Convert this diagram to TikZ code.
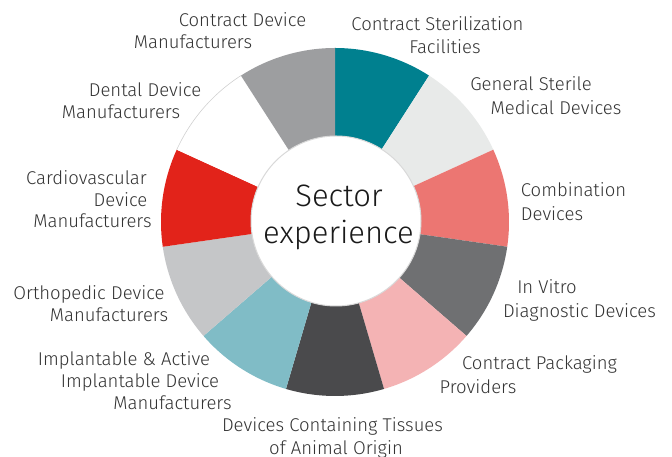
\documentclass[tikz,border=0pt]{standalone}
\usepackage{fontspec}
\setmainfont{Fira Sans}[UprightFont={* Light}]
\definecolor{txtgray}{HTML}{333333}
\definecolor{ctrtxt}{HTML}{1A1A1A}
\definecolor{sA}{HTML}{00808F}
\definecolor{sB}{HTML}{E8EAE9}
\definecolor{sC}{HTML}{EC7672}
\definecolor{sD}{HTML}{6F7072}
\definecolor{sE}{HTML}{F4B3B4}
\definecolor{sF}{HTML}{4A4A4C}
\definecolor{sG}{HTML}{80BCC6}
\definecolor{sH}{HTML}{C5C6C8}
\definecolor{sI}{HTML}{E2231A}
\definecolor{sJ}{HTML}{FFFFFF}
\definecolor{sK}{HTML}{9D9EA0}
\begin{document}
\begin{tikzpicture}[x=1pt,y=1pt,
  lbl/.style={text=txtgray, font=\fontsize{18.5}{22}\selectfont, inner sep=0pt, anchor=base},
  ctr/.style={text=ctrtxt, font=\fontsize{31}{37}\selectfont, inner sep=0pt, anchor=base}]
\useasboundingbox (0,0) rectangle (672,457);
\fill[white] (0,0) rectangle (672,457);
\coordinate (c) at (335,235);
% donut segments, clockwise from the top
\foreach \col [count=\i from 0] in {sA,sB,sC,sD,sE,sF,sG,sH,sI,sJ,sK} {
  \pgfmathsetmacro\sa{90-360/11*\i}
  \pgfmathsetmacro\sb{\sa-360/11}
  \fill[\col] (c) -- ++(\sa:174) arc[start angle=\sa, end angle=\sb, radius=174] -- cycle;
}
% thin outline of the white segment
\pgfmathsetmacro\wa{90-360/11*9}
\pgfmathsetmacro\wb{\wa-360/11}
\draw[black!18, line width=0.6pt] (c) ++(\wa:174) arc[start angle=\wa, end angle=\wb, radius=174];
% centre disc
\node (hub) [circle, fill=white, draw=black!15, line width=1pt, minimum size=170pt, inner sep=0pt] at (336,236) {};
\node (s1) [ctr] at (339,250) {Sector};
\node (s2) [ctr] at (338.5,213) {experience};
% labels (x = centre of line, y = baseline)
\node (a1) [lbl] at (242.5,430) {Contract Device};
\node (a2) [lbl] at (193,408) {Manufacturers};
\node (b1) [lbl] at (437.5,426) {Contract Sterilization};
\node (b2) [lbl] at (445,403) {Facilities};
\node (c1) [lbl] at (531,366) {General Sterile};
\node (c2) [lbl] at (556,342) {Medical Devices};
\node (d1) [lbl] at (573.5,260) {Combination};
\node (d2) [lbl] at (552,236) {Devices};
\node (e1) [lbl] at (547,163) {In Vitro};
\node (e2) [lbl] at (579.5,139) {Diagnostic Devices};
\node (f1) [lbl] at (539.5,87) {Contract Packaging};
\node (f2) [lbl] at (478,63) {Providers};
\node (g1) [lbl] at (332.5,25) {Devices Containing Tissues};
\node (g2) [lbl] at (336,2) {of Animal Origin};
\node (h1) [lbl] at (124,91) {Implantable \& Active};
\node (h2) [lbl] at (140,69) {Implantable Device};
\node (h3) [lbl] at (172.5,47) {Manufacturers};
\node (i1) [lbl] at (89,157) {Orthopedic Device};
\node (i2) [lbl] at (109,135) {Manufacturers};
\node (j1) [lbl] at (86.5,272) {Cardiovascular};
\node (j2) [lbl] at (120.5,250) {Device};
\node (j3) [lbl] at (92.5,229) {Manufacturers};
\node (k1) [lbl] at (145,360) {Dental Device};
\node (k2) [lbl] at (121,338) {Manufacturers};
\end{tikzpicture}
\end{document}
